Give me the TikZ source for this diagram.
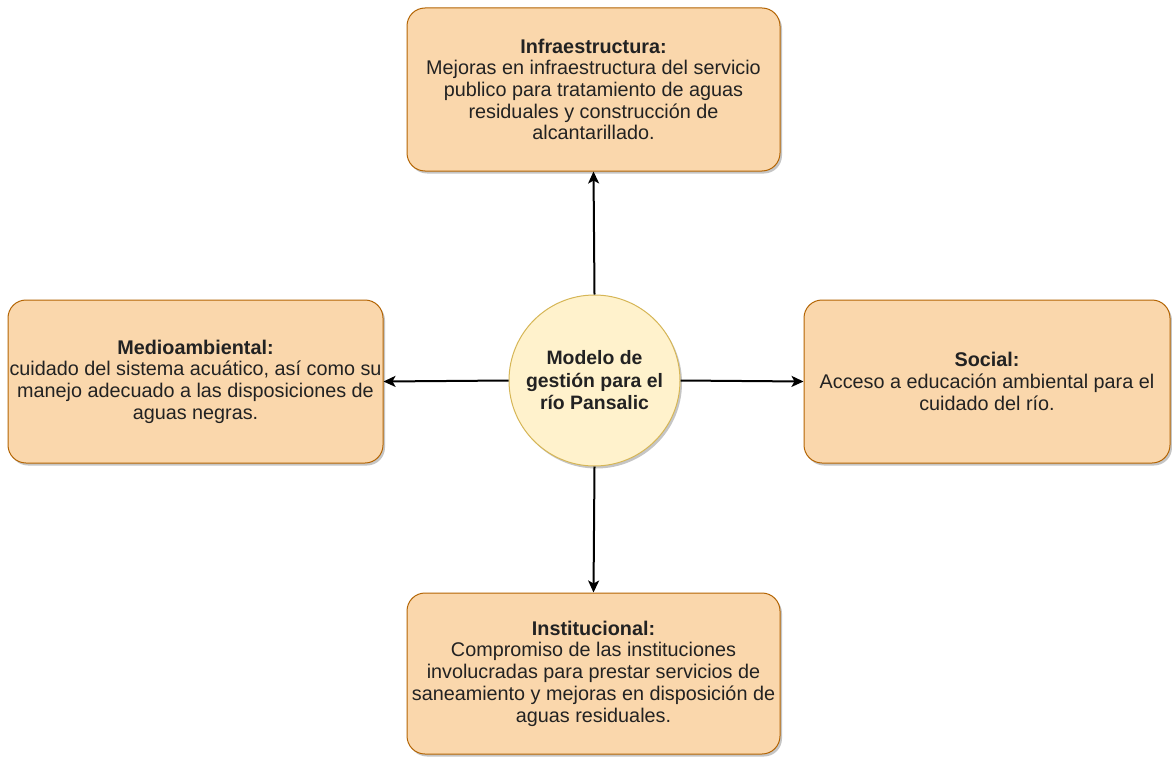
\documentclass[tikz,border=0pt]{standalone}
\usepackage{fontspec}
\setmainfont{Liberation Sans}
\usetikzlibrary{arrows.meta,shadows}
\definecolor{boxfill}{HTML}{FAD7AC}
\definecolor{boxline}{HTML}{B46504}
\definecolor{circfill}{HTML}{FFF2CC}
\definecolor{circline}{HTML}{D6B656}
\definecolor{txt}{HTML}{222222}
\begin{document}
\begin{tikzpicture}[x=1pt,y=-1pt,
  box/.style={draw=boxline,fill=boxfill,line width=1pt,rounded corners=18pt,
    drop shadow={shadow xshift=2pt,shadow yshift=-2.5pt,fill=black!45,opacity=0.5},
    align=center,text=txt,font=\fontsize{19.8}{21.7}\selectfont,inner sep=0pt},
  hub/.style={circle,draw=circline,fill=circfill,line width=1pt,
    drop shadow={shadow xshift=2pt,shadow yshift=-2.5pt,fill=black!45,opacity=0.5},
    align=center,text=txt,font=\fontsize{19.4}{22.5}\selectfont\bfseries,inner sep=0pt,minimum size=171pt},
  conn/.style={line width=2pt,-{Stealth[length=12pt,width=11pt,inset=3pt]}}]
\useasboundingbox[fill=white] (0,0) rectangle (1172,757);
\node[box,minimum width=373pt,minimum height=163pt] (infra) at (593.5,89.5)
  {\textbf{Infraestructura:}\\Mejoras en infraestructura del servicio\\publico para tratamiento de aguas\\residuales y construcción de\\alcantarillado.};
\node[box,minimum width=375pt,minimum height=163pt] (medio) at (195.5,381.5)
  {\textbf{Medioambiental:}\\cuidado del sistema acuático, así como su\\manejo adecuado a las disposiciones de\\aguas negras.};
\node[box,minimum width=366pt,minimum height=163pt] (social) at (987,381.5)
  {\textbf{Social:}\\Acceso a educación ambiental para el\\cuidado del río.};
\node[box,minimum width=373pt,minimum height=161pt] (inst) at (593.5,673.5)
  {\textbf{Institucional:}\\Compromiso de las instituciones\\involucradas para prestar servicios de\\saneamiento y mejoras en disposición de\\aguas residuales.};
\node[hub] (hub) at (594.5,380.5) {Modelo de\\gestión para el\\río Pansalic};
\draw[conn] (hub.north) -- (infra.south);
\draw[conn] (hub.west) -- (medio.east);
\draw[conn] (hub.east) -- (social.west);
\draw[conn] (hub.south) -- (inst.north);
\end{tikzpicture}
\end{document}
